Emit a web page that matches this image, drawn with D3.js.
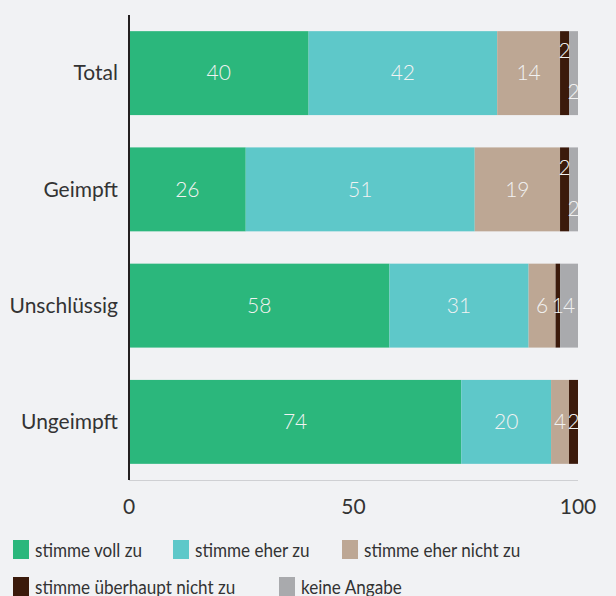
<!DOCTYPE html>
<html>
<head>
<meta charset="utf-8">
<script src="https://cdn.jsdelivr.net/npm/d3@7"></script>
<style>
  body { margin: 0; background: #f1f2f4; }
  svg { font-family: Lato, Roboto, sans-serif; }
</style>
</head>
<body>
<svg width="616" height="596"></svg>
<script>
// data
var groups = ["Total", "Geimpft", "Unschlüssig", "Ungeimpft"];
var seriesNames = ["stimme voll zu", "stimme eher zu", "stimme eher nicht zu", "stimme überhaupt nicht zu", "keine Angabe"];
var colors = ["#2bb77c", "#5ec8c9", "#bda794", "#3b1a0b", "#a9aaad"];
var vollZu = [40, 26, 58, 74];
var eherZu = [42, 51, 31, 20];
var eherNicht = [14, 19, 6, 4];
var ueberhauptNicht = [2, 2, 1, 2];
var keineAngabe = [2, 2, 4, 0];
var xTicks = [0, 50, 100];

var svg = d3.select("svg");
var x = d3.scaleLinear().domain([0, 100]).range([129, 578]);
var y = d3.scaleBand().domain(groups).range([15, 480]).paddingInner(0.278).paddingOuter(0.139);

var rows = groups.map(function (g, i) {
    var row = { group: g };
    row[seriesNames[0]] = vollZu[i];
    row[seriesNames[1]] = eherZu[i];
    row[seriesNames[2]] = eherNicht[i];
    row[seriesNames[3]] = ueberhauptNicht[i];
    row[seriesNames[4]] = keineAngabe[i];
    return row;
});
var stacked = d3.stack().keys(seriesNames)(rows);

// light baseline along the bottom
svg.append("line")
    .attr("x1", x(0)).attr("x2", x(100))
    .attr("y1", 480.5).attr("y2", 480.5)
    .attr("stroke", "#cfd0d3").attr("stroke-width", 1);

var layer = svg.append("g").selectAll("g")
    .data(stacked)
    .enter().append("g")
    .attr("fill", function (d, i) { return colors[i]; });

layer.selectAll("rect")
    .data(function (d) { return d; })
    .enter().append("rect")
    .attr("x", function (d) { return x(d[0]); })
    .attr("width", function (d) { return x(d[1]) - x(d[0]); })
    .attr("y", function (d) { return y(d.data.group); })
    .attr("height", y.bandwidth());

// value labels; tiny neighbouring segments get staggered up/down
var labels = [];
stacked.forEach(function (s, k) {
    s.forEach(function (d, i) {
        var v = d[1] - d[0];
        if (v <= 0) return;
        labels.push({ k: k, i: i, v: v, d: d });
    });
});
labels.forEach(function (l) {
    var prev = stacked[l.k - 1] ? stacked[l.k - 1][l.i] : null;
    var next = stacked[l.k + 1] ? stacked[l.k + 1][l.i] : null;
    var small = l.v <= 2;
    l.dy = 0;
    if (small && next && next[1] - next[0] > 0 && next[1] - next[0] <= 2) l.dy = -22;
    else if (small && prev && prev[1] - prev[0] > 0 && prev[1] - prev[0] <= 2) l.dy = 19;
});

svg.append("g").selectAll("text")
    .data(labels)
    .enter().append("text")
    .attr("x", function (l) { return (x(l.d[0]) + x(l.d[1])) / 2; })
    .attr("y", function (l) { return y(l.d.data.group) + y.bandwidth() / 2 + l.dy; })
    .attr("dy", "0.35em")
    .attr("text-anchor", "middle")
    .attr("fill", "#f2f2f2")
    .attr("font-size", 21)
    .attr("font-weight", 300)
    .text(function (l) { return l.v; });

// y axis
svg.append("line")
    .attr("x1", x(0)).attr("x2", x(0))
    .attr("y1", 15).attr("y2", 480)
    .attr("stroke", "#231f20").attr("stroke-width", 2);

svg.append("g").selectAll("text")
    .data(groups)
    .enter().append("text")
    .attr("x", 118)
    .attr("y", function (g) { return y(g) + y.bandwidth() / 2; })
    .attr("dy", "0.35em")
    .attr("text-anchor", "end")
    .attr("fill", "#333")
    .attr("font-size", 21)
    .text(function (g) { return g; });

// x ticks
svg.append("g").selectAll("text")
    .data(xTicks)
    .enter().append("text")
    .attr("x", function (t) { return x(t); })
    .attr("y", 507)
    .attr("dy", "0.35em")
    .attr("text-anchor", "middle")
    .attr("fill", "#333")
    .attr("font-size", 21)
    .text(function (t) { return t; });

// legend
var legendPos = [[13, 540], [173, 540], [342, 540], [13, 577], [279, 577]];
var leg = svg.append("g").selectAll("g")
    .data(seriesNames)
    .enter().append("g")
    .attr("transform", function (d, i) { return "translate(" + legendPos[i][0] + "," + legendPos[i][1] + ")"; });
leg.append("rect")
    .attr("width", 16).attr("height", 19)
    .attr("fill", function (d, i) { return colors[i]; });
leg.append("text")
    .attr("transform", "translate(22,10) scale(0.9,1)")
    .attr("dy", "0.35em")
    .attr("fill", "#333")
    .attr("font-size", 19)
    .text(function (d) { return d; });
</script>
</body>
</html>
